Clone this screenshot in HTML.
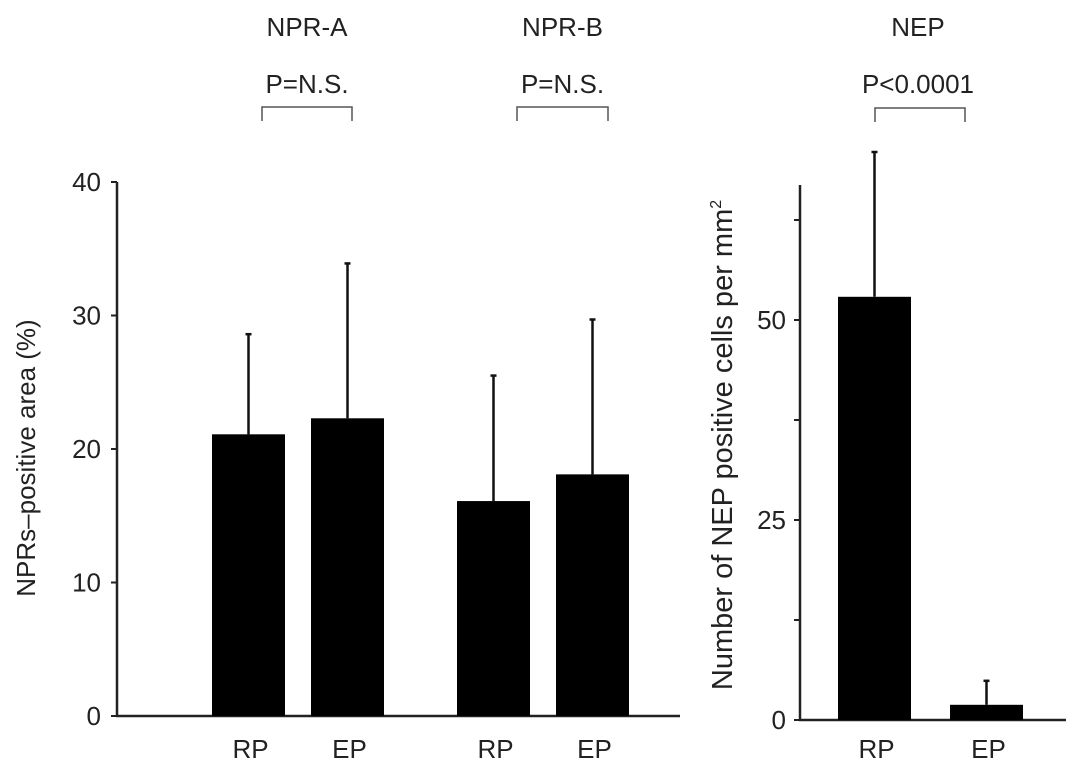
<!DOCTYPE html>
<html><head><meta charset="utf-8"><style>
html,body{margin:0;padding:0;background:#fff;}
svg{display:block;font-family:"Liberation Sans",Arial,sans-serif;}
</style></head><body>
<svg id="chart" width="1078" height="767" viewBox="0 0 1078 767"></svg>
<script>
const leftCategories = ["RP","EP","RP","EP"];
const leftValues = [21.1, 22.3, 16.1, 18.1];
const leftErrors = [28.6, 33.9, 25.5, 29.7];
const leftTicks = [0,10,20,30,40];
const groupTitles = ["NPR-A","NPR-B"];
const groupPValues = ["P=N.S.","P=N.S."];
const rightCategories = ["RP","EP"];
const rightValues = [52.9, 1.9];
const rightErrors = [71.0, 4.9];
const rightTicks = [0,25,50];
const rightMinorTicks = [12.5,37.5,62.5];
const rightTitle = "NEP";
const rightPValue = "P<0.0001";

const NS="http://www.w3.org/2000/svg";
const svg=document.getElementById('chart');
function mk(tag,attrs,parent){const e=document.createElementNS(NS,tag);for(const k in attrs)e.setAttribute(k,attrs[k]);(parent||svg).appendChild(e);return e;}
const FS=26;
const yL=v=>716-v*(716-182)/40;
const barLeftX=[212,311,457,556];
const bw=73;
const yR=v=>720-v*(720-320)/50;
const barRightX=[838,950];

let ax=mk('line',{x1:117,y1:182,x2:117,y2:716,stroke:'#222','stroke-width':2.5});


let bx=mk('line',{x1:116,y1:716,x2:680,y2:716,stroke:'#222','stroke-width':2.5});


leftTicks.forEach(t=>{
  let l=mk('line',{x1:111,y1:yL(t),x2:117,y2:yL(t),stroke:'#222','stroke-width':2});
  
  
  let tx=mk('text',{x:101,y:yL(t)+9,'text-anchor':'end','font-size':FS,fill:'#222'});
  tx.textContent=t;
  
  
});
let yt=mk('text',{x:0,y:0,transform:'translate(35,458) rotate(-90)','text-anchor':'middle','font-size':FS,fill:'#222'});
yt.textContent='NPRs\u2013positive area (%)';



leftValues.forEach((v,i)=>{
  const x=barLeftX[i], cx=x+bw/2;
  let el=mk('line',{x1:cx,y1:yL(leftErrors[i]),x2:cx,y2:yL(v),stroke:'#111','stroke-width':2.5});
  
  
  let cap=mk('line',{x1:cx-3,y1:yL(leftErrors[i]),x2:cx+3,y2:yL(leftErrors[i]),stroke:'#111','stroke-width':2.5});
  
  
  let r=mk('rect',{x:x,y:yL(v),width:bw,height:yL(0)-yL(v),fill:'#000'});
  
  
  let t=mk('text',{x:cx+2,y:758,'text-anchor':'middle','font-size':FS,fill:'#222'});
  t.textContent=leftCategories[i];
  
  
});
groupTitles.forEach((g,k)=>{
  const bl=[262,517][k], br=[352,608][k];
  const cx=(bl+br)/2;
  let t=mk('text',{x:cx,y:36,'text-anchor':'middle','font-size':FS,fill:'#222'});
  t.textContent=g;
  
  
  let p=mk('text',{x:cx,y:93,'text-anchor':'middle','font-size':FS,fill:'#222'});
  p.textContent=groupPValues[k];
  
  
  let b=mk('path',{d:`M${bl},121 V107 H${br} V121`,fill:'none',stroke:'#555','stroke-width':1.5});
  
  
});

let ax2=mk('line',{x1:800,y1:185,x2:800,y2:720,stroke:'#222','stroke-width':2.5});


let bx2=mk('line',{x1:799,y1:720,x2:1066,y2:720,stroke:'#222','stroke-width':2.5});


rightTicks.forEach(t=>{
  let l=mk('line',{x1:794,y1:yR(t),x2:800,y2:yR(t),stroke:'#222','stroke-width':2});
  
  
  let tx=mk('text',{x:786,y:yR(t)+9,'text-anchor':'end','font-size':FS,fill:'#222'});
  tx.textContent=t;
  
  
});
rightMinorTicks.forEach(t=>{
  let l=mk('line',{x1:794,y1:yR(t),x2:800,y2:yR(t),stroke:'#222','stroke-width':2});
  
  
});
let yt2=mk('text',{x:0,y:0,transform:'translate(732,445) rotate(-90)','text-anchor':'middle','font-size':29,fill:'#222'});
yt2.innerHTML='Number of NEP positive cells per mm<tspan dy="-11" font-size="16">2</tspan>';


rightValues.forEach((v,i)=>{
  const x=barRightX[i], cx=x+bw/2;
  let el=mk('line',{x1:cx,y1:yR(rightErrors[i]),x2:cx,y2:yR(v),stroke:'#111','stroke-width':2.5});
  
  
  let cap=mk('line',{x1:cx-3,y1:yR(rightErrors[i]),x2:cx+3,y2:yR(rightErrors[i]),stroke:'#111','stroke-width':2.5});
  
  
  let r=mk('rect',{x:x,y:yR(v),width:bw,height:yR(0)-yR(v),fill:'#000'});
  
  
  let t=mk('text',{x:cx+2,y:758,'text-anchor':'middle','font-size':FS,fill:'#222'});
  t.textContent=rightCategories[i];
  
  
});
let rt=mk('text',{x:918,y:36,'text-anchor':'middle','font-size':FS,fill:'#222'});
rt.textContent=rightTitle;


let rp=mk('text',{x:918,y:93,'text-anchor':'middle','font-size':FS,fill:'#222'});
rp.textContent=rightPValue;


let rb=mk('path',{d:'M875,122 V108 H965 V122',fill:'none',stroke:'#555','stroke-width':1.5});


</script>
</body></html>
